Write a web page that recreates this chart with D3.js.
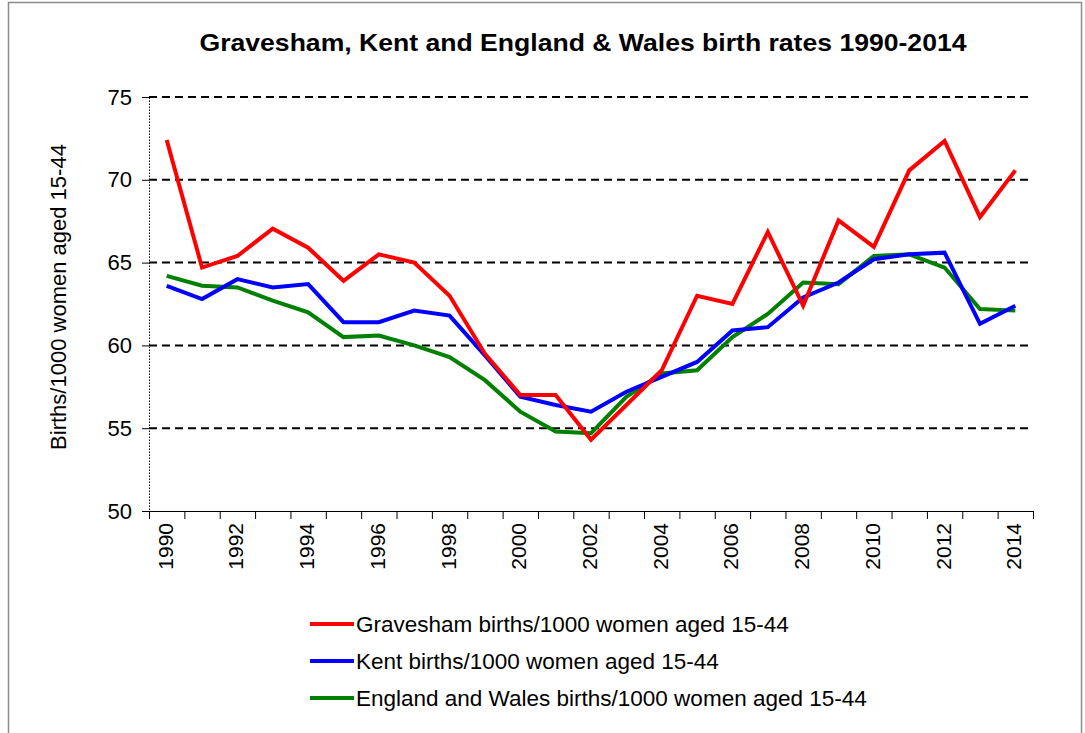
<!DOCTYPE html>
<html>
<head>
<meta charset="utf-8">
<script src="https://cdn.jsdelivr.net/npm/d3@7"></script>
<style>
  body { margin: 0; background: #fff; }
  text { font-family: "Liberation Sans", Arial, sans-serif; }
</style>
</head>
<body>
<div id="chart"></div>
<script>
var years = d3.range(1990, 2015).map(String);
var gravesham = [72.4, 64.7, 65.4, 67.05, 65.9, 63.9, 65.5, 65.0, 63.0, 59.5, 57.0, 57.0, 54.3, 56.4, 58.5,
                 63.0, 62.5, 66.85, 62.4, 67.55, 65.95, 70.57, 72.35, 67.75, 70.57];
var kent = [63.6, 62.8, 64.0, 63.5, 63.7, 61.4, 61.4, 62.1, 61.8, 59.4, 56.9, 56.4, 56.0, 57.2, 58.1,
            59.0, 60.9, 61.1, 62.9, 63.8, 65.2, 65.5, 65.6, 61.3, 62.4];
var englandWales = [64.2, 63.6, 63.5, 62.7, 62.0, 60.5, 60.6, 60.0, 59.3, 57.9, 56.0, 54.8, 54.7, 56.9, 58.3,
                    58.5, 60.5, 61.9, 63.8, 63.7, 65.4, 65.5, 64.7, 62.2, 62.1];
var yTicks = [50, 55, 60, 65, 70, 75];

var seriesNames = ["Gravesham births/1000 women aged 15-44",
                   "Kent births/1000 women aged 15-44",
                   "England and Wales births/1000 women aged 15-44"];
var seriesColors = ["#ff0000", "#0000ff", "#008000"];
var seriesData = [gravesham, kent, englandWales];

var W = 1085, H = 733;
var margin = {top: 97, right: 52, bottom: 222, left: 149};
var width = W - margin.left - margin.right,
    height = H - margin.top - margin.bottom;

var root = d3.select("#chart").append("svg")
    .attr("width", W)
    .attr("height", H);

// outer frame
root.append("rect")
    .attr("x", 8.5).attr("y", 2.5)
    .attr("width", W - 12).attr("height", H + 10)
    .attr("fill", "none")
    .attr("stroke", "#8c8c8c")
    .attr("stroke-width", 1.5);

// title
root.append("text")
    .attr("x", 583)
    .attr("y", 51)
    .attr("text-anchor", "middle")
    .attr("textLength", 767)
    .attr("lengthAdjust", "spacingAndGlyphs")
    .style("font-size", "24px")
    .style("font-weight", "bold")
    .text("Gravesham, Kent and England & Wales birth rates 1990-2014");

var svg = root.append("g")
    .attr("transform", "translate(" + margin.left + "," + margin.top + ")");

var x = d3.scaleBand().domain(years).range([0, width]);
var y = d3.scaleLinear().domain([50, 75]).range([height, 0]);

// dashed gridlines
svg.selectAll(".grid")
    .data(yTicks.filter(function(d) { return d > 50; }))
    .enter().append("line")
    .attr("x1", 0).attr("x2", width)
    .attr("y1", function(d) { return y(d); })
    .attr("y2", function(d) { return y(d); })
    .attr("stroke", "#000")
    .attr("stroke-width", 2)
    .attr("stroke-dasharray", "8,5");

// y axis
var yAxis = svg.append("g")
    .call(d3.axisLeft(y).tickValues(yTicks).tickSize(7).tickPadding(10));
yAxis.select(".domain").attr("stroke-dasharray", "1.5,1.5");
yAxis.selectAll("text").style("font-size", "22px").attr("fill", "#000");

// x axis: ticks at band boundaries, labels every second year
var xb = d3.scaleLinear().domain([0, years.length]).range([0, width]);
var xAxis = svg.append("g")
    .attr("transform", "translate(0," + height + ")")
    .call(d3.axisBottom(xb).tickValues(d3.range(0, years.length + 1)).tickSize(8).tickFormat(""));
xAxis.select(".domain").attr("d", "M0,0.5H" + width);

svg.append("g")
    .selectAll("text")
    .data(years.filter(function(d, i) { return i % 2 === 0; }))
    .enter().append("text")
    .attr("transform", function(d) {
        return "translate(" + (x(d) + x.bandwidth() / 2 + 6) + "," + (height + 12) + ")rotate(-90)";
    })
    .attr("text-anchor", "end")
    .style("font-size", "21px")
    .text(function(d) { return d; });

// y axis title
root.append("text")
    .attr("transform", "translate(66,297)rotate(-90)")
    .attr("text-anchor", "middle")
    .style("font-size", "22px")
    .text("Births/1000 women aged 15-44");

// lines
var line = d3.line()
    .x(function(d, i) { return x(years[i]) + x.bandwidth() / 2; })
    .y(function(d) { return y(d); });

[2, 1, 0].forEach(function(k) {
    svg.append("path")
        .datum(seriesData[k])
        .attr("fill", "none")
        .attr("stroke", seriesColors[k])
        .attr("stroke-width", 4)
        .attr("stroke-linejoin", "miter")
        .attr("d", line);
});

// legend
var legend = root.selectAll(".legend")
    .data(seriesNames)
    .enter().append("g")
    .attr("class", "legend")
    .attr("transform", function(d, i) { return "translate(310," + (624 + i * 37) + ")"; });

legend.append("line")
    .attr("x1", 0).attr("x2", 44)
    .attr("stroke", function(d, i) { return seriesColors[i]; })
    .attr("stroke-width", 4);

legend.append("text")
    .attr("x", 46)
    .attr("y", 8)
    .style("font-size", "22.5px")
    .text(function(d) { return d; });
</script>
</body>
</html>
